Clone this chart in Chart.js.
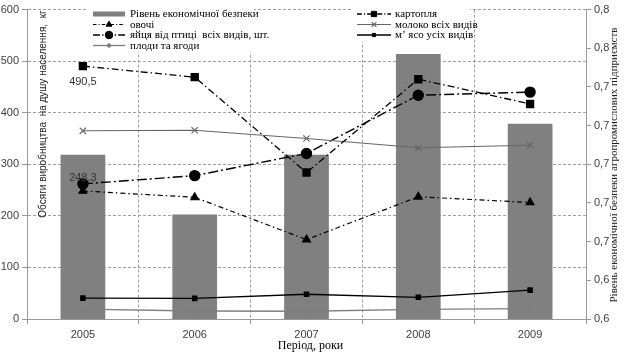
<!DOCTYPE html>
<html>
<head>
<meta charset="utf-8">
<script src="https://cdn.jsdelivr.net/npm/chart.js@4.4.1/dist/chart.umd.min.js"></script>
<style>
  html,body{margin:0;padding:0;background:#fff;}
  #wrap{width:625px;height:355px;}
</style>
</head>
<body>
<div id="wrap"><canvas id="c" width="625" height="355"></canvas></div>
<script>
// ---- data ----
const years = ['2005', '2006', '2007', '2008', '2009'];
const securityLevel = [0.705, 0.674, 0.705, 0.757, 0.721];
const potato = [490.5, 469, 284, 465, 417];
const vegetables = [248.3, 236, 154, 237, 226];
const milk = [365, 366, 350, 332, 337];
const eggs = [262, 278, 321, 434, 440];
const meat = [40.5, 40, 48, 42, 56];
const fruits = [19, 15.5, 15, 18.5, 20];
const leftTicks = [0, 100, 200, 300, 400, 500, 600];
const rightTicks = [0.62, 0.64, 0.66, 0.68, 0.70, 0.72, 0.74, 0.76, 0.78];
const rightTickLabels = ['0,6', '0,6', '0,7', '0,7', '0,7', '0,7', '0,7', '0,8', '0,8'];
const labelNames = {
  bar: 'Рівень економічної безпеки',
  potato: 'картопля',
  vegetables: 'овочі',
  milk: 'молоко всіх видів',
  eggs: 'яйця від птиці  всіх видів, шт.',
  meat: 'м\u2019 ясо усіх видів',
  fruits: 'плоди та ягоди'
};
const annotated = [{ series: 'potato', index: 0, text: '490,5', dy: 16 },
                   { series: 'vegetables', index: 0, text: '248,3', dy: -13 }];
const titles = {
  x: 'Період, роки',
  yLeft: 'Обсяги виробництва  на душу населення,  кг',
  yRight: 'Рівень економічної безпеки агропромислових підприємств'
};

const SERIF = '"Liberation Serif", "Times New Roman", serif';
const SANS = '"Liberation Sans", Arial, sans-serif';

const datasets = [
  { key: 'bar', type: 'bar', label: labelNames.bar, data: securityLevel, yAxisID: 'y1',
    backgroundColor: '#808080', borderWidth: 0, barPercentage: 0.4, categoryPercentage: 1, order: 10 },
  { key: 'potato', type: 'line', label: labelNames.potato, data: potato, yAxisID: 'y',
    borderColor: '#000', borderWidth: 1.3, borderDash: [7, 3, 1.5, 3], pointStyle: 'rect',
    pointRadius: 5, pointBackgroundColor: '#000', pointBorderColor: '#000', order: 1 },
  { key: 'vegetables', type: 'line', label: labelNames.vegetables, data: vegetables, yAxisID: 'y',
    borderColor: '#000', borderWidth: 1.2, borderDash: [5, 3, 1.5, 3], pointStyle: 'triangle',
    pointRadius: 4.5, pointBackgroundColor: '#000', pointBorderColor: '#000', order: 2 },
  { key: 'milk', type: 'line', label: labelNames.milk, data: milk, yAxisID: 'y',
    borderColor: '#666', borderWidth: 1.1, pointStyle: 'crossRot',
    pointRadius: 4.5, pointBorderWidth: 1.2, pointBackgroundColor: '#666', pointBorderColor: '#666', order: 3 },
  { key: 'eggs', type: 'line', label: labelNames.eggs, data: eggs, yAxisID: 'y',
    borderColor: '#000', borderWidth: 1.4, borderDash: [10, 3, 2, 3], pointStyle: 'circle',
    pointRadius: 5, pointBackgroundColor: '#000', pointBorderColor: '#000', order: 4 },
  { key: 'meat', type: 'line', label: labelNames.meat, data: meat, yAxisID: 'y',
    borderColor: '#000', borderWidth: 1.3, pointStyle: 'rect',
    pointRadius: 3, pointBackgroundColor: '#000', pointBorderColor: '#000', order: 5 },
  { key: 'fruits', type: 'line', label: labelNames.fruits, data: fruits, yAxisID: 'y',
    borderColor: '#7f7f7f', borderWidth: 1.3, pointStyle: 'rectRot',
    pointRadius: 3, pointBackgroundColor: '#7f7f7f', pointBorderColor: '#7f7f7f', order: 6 }
];
datasets.forEach(d => { if (d.type === 'line') { d.tension = 0; d.fill = false; d.pointHoverRadius = d.pointRadius; } });

// custom two-column legend
const legendLayout = {
  boxes: [ { x: 88, y: 9, w: 166, h: 43 }, { x: 352, y: 9, w: 118, h: 33 } ],
  columns: [
    { x0: 93, x1: 125, tx: 130, rows: [14, 24.5, 35, 45.5], keys: ['bar', 'vegetables', 'eggs', 'fruits'] },
    { x0: 357, x1: 391, tx: 395, rows: [14, 24.5, 35], keys: ['potato', 'milk', 'meat'] }
  ]
};

const customLegend = {
  id: 'customLegend',
  afterDraw(chart) {
    const ctx = chart.ctx;
    ctx.save();
    ctx.fillStyle = '#fff';
    legendLayout.boxes.forEach(b => ctx.fillRect(b.x, b.y, b.w, b.h));
    ctx.font = '11px ' + SERIF;
    ctx.textBaseline = 'middle';
    ctx.textAlign = 'left';
    legendLayout.columns.forEach(col => {
      col.keys.forEach((k, i) => {
        const ds = chart.data.datasets.find(d => d.key === k);
        const y = col.rows[i];
        if (ds.type === 'bar') {
          ctx.fillStyle = ds.backgroundColor;
          ctx.fillRect(col.x0, y - 2.5, col.x1 - col.x0, 5);
        } else {
          ctx.save();
          ctx.strokeStyle = ds.borderColor;
          ctx.lineWidth = ds.borderWidth;
          ctx.setLineDash(ds.borderDash ? ds.borderDash.map(v => v * 0.7) : []);
          ctx.beginPath();
          ctx.moveTo(col.x0, y);
          ctx.lineTo(col.x1, y);
          ctx.stroke();
          ctx.setLineDash([]);
          ctx.fillStyle = ds.pointBackgroundColor;
          ctx.strokeStyle = ds.pointBorderColor;
          ctx.lineWidth = ds.pointBorderWidth || 1;
          Chart.helpers.drawPoint(ctx, { pointStyle: ds.pointStyle, radius: ds.pointRadius * 0.75, rotation: 0, borderWidth: ds.pointBorderWidth || 1 },
            (col.x0 + col.x1) / 2, y);
          ctx.restore();
        }
        ctx.fillStyle = '#000';
        ctx.fillText(ds.label, col.tx, y + 0.5);
      });
    });
    ctx.restore();
  }
};

const titlesAndLabels = {
  id: 'titlesAndLabels',
  afterDraw(chart) {
    const ctx = chart.ctx;
    const area = chart.chartArea;
    ctx.save();
    // data labels
    ctx.font = '11px ' + SANS;
    ctx.fillStyle = '#333';
    ctx.textAlign = 'center';
    ctx.textBaseline = 'middle';
    annotated.forEach(a => {
      const meta = chart.getDatasetMeta(chart.data.datasets.findIndex(d => d.key === a.series));
      const pt = meta.data[a.index];
      ctx.fillText(a.text, pt.x, pt.y + a.dy);
    });
    // x title
    ctx.font = '12px ' + SERIF;
    ctx.fillStyle = '#000';
    ctx.fillText(titles.x, (area.left + area.right) / 2 + 4, 346);
    // left y title (inside the plot)
    ctx.save();
    ctx.translate(43, 114);
    ctx.rotate(-Math.PI / 2);
    ctx.font = '10px ' + SANS;
    ctx.fillStyle = '#222';
    ctx.fillText(titles.yLeft, 0, 0);
    ctx.restore();
    // right y title
    ctx.save();
    ctx.translate(614, 165);
    ctx.rotate(-Math.PI / 2);
    ctx.font = '11px ' + SERIF;
    ctx.fillStyle = '#222';
    ctx.fillText(titles.yRight, 0, 0);
    ctx.restore();
    ctx.restore();
  }
};

const gridColor = '#a0a0a0';
const tickFont = { family: SANS, size: 11 };

new Chart(document.getElementById('c'), {
  type: 'bar',
  data: { labels: years, datasets: datasets },
  options: {
    responsive: false,
    animation: false,
    devicePixelRatio: 1,
    layout: { padding: { top: 8, left: 0, right: 0, bottom: 0 } },
    plugins: { legend: { display: false }, tooltip: { enabled: false } },
    scales: {
      x: {
        offset: true,
        grid: { offset: true, color: gridColor, tickLength: 5, tickColor: '#999' },
        border: { display: true, color: '#999', dash: [3, 2] },
        ticks: { font: tickFont, color: '#404040', padding: 4, maxRotation: 0 },
        afterFit(s) { s.height = 36; }
      },
      y: {
        position: 'left',
        min: 0, max: 600,
        afterBuildTicks(s) { s.ticks = leftTicks.map(v => ({ value: v })); },
        grid: { color: gridColor, tickLength: 5, tickColor: '#999' },
        border: { display: true, color: '#999', dash: [3, 2] },
        ticks: { font: tickFont, color: '#404040', padding: 3 },
        afterFit(s) { s.width = 27; }
      },
      y1: {
        position: 'right',
        min: rightTicks[0], max: rightTicks[rightTicks.length - 1],
        afterBuildTicks(s) { s.ticks = rightTicks.map(v => ({ value: v })); },
        ticks: { font: tickFont, color: '#404040', padding: 3,
                 callback: (v, i) => rightTickLabels[i] },
        grid: { drawOnChartArea: false, tickLength: 5, tickColor: '#999' },
        border: { display: true, color: '#999' },
        afterFit(s) { s.width = 39; }
      }
    }
  },
  plugins: [customLegend, titlesAndLabels]
});
</script>
</body>
</html>
